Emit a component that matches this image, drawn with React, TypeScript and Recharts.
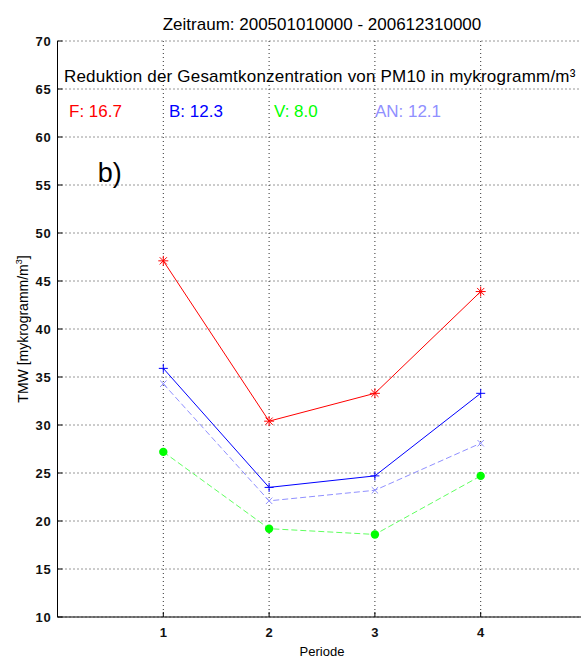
import React from 'react';
import { LineChart, Line, XAxis, YAxis, CartesianGrid, ReferenceDot } from 'recharts';

const periods = [1, 2, 3, 4];
const seriesF = [47.1, 30.4, 33.3, 43.9];
const seriesB = [35.9, 23.5, 24.7, 33.3];
const seriesAN = [34.3, 22.1, 23.2, 28.1];
const seriesV = [27.2, 19.2, 18.6, 24.7];
const yTicks = [10, 15, 20, 25, 30, 35, 40, 45, 50, 55, 60, 65, 70];
const xTicks = [1, 2, 3, 4];
const titleText = 'Zeitraum: 200501010000 - 200612310000';
const subtitleText = 'Reduktion der Gesamtkonzentration von PM10 in mykrogramm/m\u00B3';
const reductionLabels = ['F: 16.7', 'B: 12.3', 'V: 8.0', 'AN: 12.1'];
const panelLabel = 'b)';
const xAxisTitle = 'Periode';
const yAxisTitle = 'TMW [mykrogramm/m';

const data = periods.map((p, i) => ({
  periode: p,
  F: seriesF[i],
  B: seriesB[i],
  AN: seriesAN[i],
  V: seriesV[i],
}));

const FONT = '"Liberation Sans", Arial, Helvetica, sans-serif';

const YTick = (props: any) => {
  const { x, y, payload } = props;
  return (
    <g>
      <line x1={x} x2={x + 5} y1={y} y2={y} stroke="#000" strokeWidth={1} />
      <text x={x - 6} y={y} dy={4.5} textAnchor="end" fontFamily={FONT} fontSize={13} fontWeight="bold" letterSpacing={0.8} fill="#111">
        {payload.value}
      </text>
    </g>
  );
};

const XTick = (props: any) => {
  const { x, y, payload } = props;
  return (
    <g>
      <line x1={x} x2={x} y1={y} y2={y - 5} stroke="#000" strokeWidth={1} />
      <text x={x} y={y + 20} textAnchor="middle" fontFamily={FONT} fontSize={13} fontWeight="bold" fill="#111">
        {payload.value}
      </text>
    </g>
  );
};

const TopTick = (props: any) => {
  const { x, y } = props;
  return <line x1={x} x2={x} y1={y} y2={y + 5} stroke="#000" strokeWidth={1} />;
};

const Asterisk = (props: any) => {
  const { cx, cy } = props;
  if (cx == null || cy == null) return null;
  const r = 5;
  const d = 3.6;
  return (
    <g stroke="#ff0000" strokeWidth={1}>
      <line x1={cx - r} x2={cx + r} y1={cy} y2={cy} />
      <line x1={cx} x2={cx} y1={cy - r} y2={cy + r} />
      <line x1={cx - d} x2={cx + d} y1={cy - d} y2={cy + d} />
      <line x1={cx - d} x2={cx + d} y1={cy + d} y2={cy - d} />
    </g>
  );
};

const Plus = (props: any) => {
  const { cx, cy } = props;
  if (cx == null || cy == null) return null;
  const r = 4.5;
  return (
    <g stroke="#0000ff" strokeWidth={1}>
      <line x1={cx - r} x2={cx + r} y1={cy} y2={cy} />
      <line x1={cx} x2={cx} y1={cy - r} y2={cy + r} />
    </g>
  );
};

const Cross = (props: any) => {
  const { cx, cy } = props;
  if (cx == null || cy == null) return null;
  const r = 3.2;
  return (
    <g stroke="#9090ff" strokeWidth={1}>
      <line x1={cx - r} x2={cx + r} y1={cy - r} y2={cy + r} />
      <line x1={cx - r} x2={cx + r} y1={cy + r} y2={cy - r} />
    </g>
  );
};

const Dot = (props: any) => {
  const { cx, cy } = props;
  if (cx == null || cy == null) return null;
  return <circle cx={cx} cy={cy} r={4.2} fill="#00ff00" stroke="none" />;
};

const textLabel = (text: string, color: string, size: number, anchor: string = 'start', spacing: number = 0) => (props: any) => {
  const vb = props.viewBox || {};
  return (
    <text x={vb.x} y={vb.y} textAnchor={anchor} fontFamily={FONT} fontSize={size} letterSpacing={spacing} fill={color}>
      {text}
    </text>
  );
};

const XAxisLabel = (props: any) => {
  const vb = props.viewBox || {};
  return (
    <text x={vb.x + vb.width / 2} y={vb.y + 38.5} textAnchor="middle" fontFamily={FONT} fontSize={13} fill="#000">
      {xAxisTitle}
    </text>
  );
};

const YAxisLabel = (props: any) => {
  const vb = props.viewBox || {};
  const cx = 28;
  const cy = vb.y + vb.height / 2;
  return (
    <text x={cx} y={cy} transform={`rotate(-90 ${cx} ${cy})`} textAnchor="middle" fontFamily={FONT} fontSize={14} fill="#000">
      {yAxisTitle}
      <tspan dy={-6} fontSize={9}>3</tspan>
      <tspan dy={6}>]</tspan>
    </text>
  );
};

export default function App() {
  return (
    <div style={{ position: 'absolute', left: 0, top: 0, width: 581, height: 657, overflow: 'hidden', background: '#fff' }}>
      <LineChart
        width={600}
        height={657}
        data={data}
        margin={{ top: 41, right: 13.5, left: 0, bottom: 0 }}
      >
        <CartesianGrid stroke="#303030" strokeDasharray="1 3" strokeWidth={1} horizontalValues={yTicks} verticalValues={xTicks} />
        <XAxis
          dataKey="periode"
          type="number"
          domain={[0, 5]}
          ticks={xTicks}
          allowDecimals={false}
          height={40}
          tickSize={0}
          tickMargin={0}
          tick={<XTick />}
          axisLine={{ stroke: '#000', strokeWidth: 1 }}
          tickLine={false}
          label={<XAxisLabel />}
        />
        <XAxis
          xAxisId="top"
          orientation="top"
          dataKey="periode"
          type="number"
          domain={[0, 5]}
          ticks={xTicks}
          height={0}
          tickSize={0}
          tickMargin={0}
          tick={<TopTick />}
          axisLine={{ stroke: '#000', strokeWidth: 1 }}
          tickLine={false}
        />
        <YAxis
          type="number"
          domain={[10, 70]}
          ticks={yTicks}
          width={57.5}
          tickSize={0}
          tickMargin={0}
          tick={<YTick />}
          axisLine={{ stroke: '#000', strokeWidth: 1 }}
          tickLine={false}
          label={<YAxisLabel />}
        />
        <Line dataKey="F" type="linear" stroke="#ff0000" strokeWidth={1} dot={<Asterisk />} activeDot={false} isAnimationActive={false} />
        <Line dataKey="B" type="linear" stroke="#0000ff" strokeWidth={1} dot={<Plus />} activeDot={false} isAnimationActive={false} />
        <Line dataKey="AN" type="linear" stroke="#9090ff" strokeWidth={1} strokeDasharray="6 3" dot={<Cross />} activeDot={false} isAnimationActive={false} />
        <Line dataKey="V" type="linear" stroke="#60ff60" strokeWidth={1} strokeDasharray="6 3" dot={<Dot />} activeDot={false} isAnimationActive={false} />
        <ReferenceDot x={2.5} y={71.15} r={0} ifOverflow="visible" label={textLabel(titleText, '#000', 17, 'middle')} />
        <ReferenceDot x={0.061} y={65.76} r={0} ifOverflow="visible" label={textLabel(subtitleText, '#000', 17, 'start', 0.2)} />
        <ReferenceDot x={0.109} y={62.05} r={0} ifOverflow="visible" label={textLabel(reductionLabels[0], '#ff0000', 17)} />
        <ReferenceDot x={1.054} y={62.05} r={0} ifOverflow="visible" label={textLabel(reductionLabels[1], '#0000ff', 17)} />
        <ReferenceDot x={2.046} y={62.05} r={0} ifOverflow="visible" label={textLabel(reductionLabels[2], '#00ff00', 17)} />
        <ReferenceDot x={3.0} y={62.05} r={0} ifOverflow="visible" label={textLabel(reductionLabels[3], '#9090ff', 17)} />
        <ReferenceDot x={0.38} y={55.34} r={0} ifOverflow="visible" label={textLabel(panelLabel, '#000', 27)} />
      </LineChart>
    </div>
  );
}
